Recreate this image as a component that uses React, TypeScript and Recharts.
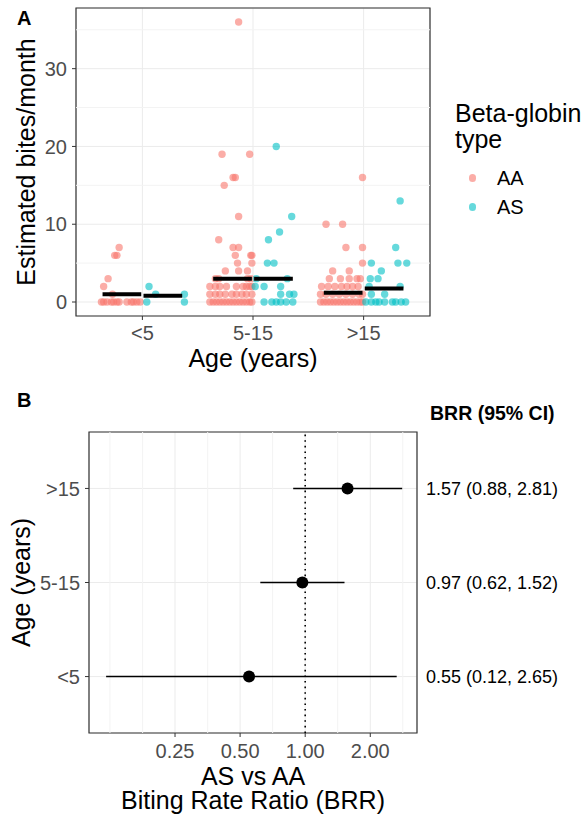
import React from 'react'
import {
  ScatterChart,
  Scatter,
  XAxis,
  YAxis,
  CartesianGrid,
  ReferenceLine,
  ReferenceArea,
  ErrorBar,
  Label,
} from 'recharts'

// age groups (x categories of panel A, rows of panel B)
const ages = ['<5', '5-15', '>15']
const ageTicks = [1, 2, 3]

// panel A: [jitter within the dodge lane (category units), estimated bites/month]
const aaUnder5: [number, number][] = [
  [-0.21, 7], [-0.25, 6], [-0.23, 6], [-0.31, 3], [-0.35, 2], [-0.27, 1],
  [-0.37, 0], [-0.35, 0], [-0.32, 0], [-0.28, 0], [-0.26, 0], [-0.23, 0],
  [-0.21, 0], [-0.14, 0], [-0.1, 0], [-0.08, 0], [-0.05, 0], [-0.02, 0],
]
const asUnder5: [number, number][] = [
  [0.06, 2], [0.12, 1], [0.38, 1], [0.04, 0], [0.38, 0],
]
const aa5to15: [number, number][] = [
  [-0.13, 36], [-0.28, 19], [-0.03, 19], [-0.18, 16], [-0.16, 16], [-0.26, 15],
  [-0.13, 11], [-0.31, 8], [-0.18, 7], [-0.13, 7], [-0.16, 6], [-0.02, 6], [-0.01, 6],
  [-0.14, 5], [-0.01, 5], [-0.25, 4], [-0.13, 4], [-0.05, 4],
  [-0.34, 3], [-0.31, 3], [-0.05, 3], [-0.02, 3],
  [-0.39, 2], [-0.34, 2], [-0.3, 2], [-0.24, 2], [-0.15, 2], [-0.09, 2], [-0.06, 2], [-0.03, 2], [-0.01, 2],
  [-0.39, 1], [-0.34, 1], [-0.3, 1], [-0.25, 1], [-0.19, 1], [-0.15, 1], [-0.1, 1], [-0.06, 1], [-0.01, 1],
  [-0.39, 0], [-0.36, 0], [-0.33, 0], [-0.3, 0], [-0.27, 0], [-0.24, 0], [-0.21, 0],
  [-0.18, 0], [-0.15, 0], [-0.12, 0], [-0.09, 0], [-0.06, 0], [-0.03, 0], [-0.01, 0],
]
const as5to15: [number, number][] = [
  [0.21, 20], [0.35, 11], [0.24, 9], [0.14, 8], [0.13, 5], [0.19, 5],
  [0.03, 3], [0.31, 3], [0.02, 2], [0.1, 2], [0.25, 2],
  [0.25, 1], [0.33, 1], [0.37, 1],
  [0.1, 0], [0.17, 0], [0.21, 0], [0.25, 0], [0.3, 0], [0.36, 0],
]
const aaOver15: [number, number][] = [
  [-0.01, 16], [-0.34, 10], [-0.19, 10], [-0.16, 7], [-0.01, 7], [-0.01, 5],
  [-0.28, 4], [-0.13, 4], [-0.31, 3], [-0.21, 3], [-0.13, 3], [-0.06, 3], [-0.03, 3],
  [-0.38, 2], [-0.32, 2], [-0.26, 2], [-0.2, 2], [-0.15, 2], [-0.1, 2], [-0.05, 2],
  [-0.39, 1], [-0.34, 1], [-0.28, 1], [-0.22, 1], [-0.16, 1], [-0.1, 1], [-0.04, 1], [-0.01, 1],
  [-0.39, 0], [-0.36, 0], [-0.33, 0], [-0.3, 0], [-0.27, 0], [-0.24, 0], [-0.21, 0],
  [-0.18, 0], [-0.15, 0], [-0.12, 0], [-0.09, 0], [-0.06, 0], [-0.03, 0], [-0.01, 0],
]
const asOver15: [number, number][] = [
  [0.33, 13], [0.29, 7], [0.07, 5], [0.31, 5], [0.39, 5], [0.16, 4],
  [0.06, 3], [0.13, 3], [0.05, 2], [0.33, 2], [0.07, 1], [0.19, 1],
  [0.02, 0], [0.07, 0], [0.11, 0], [0.14, 0], [0.19, 0], [0.26, 0], [0.29, 0], [0.34, 0], [0.38, 0],
]
const aaMedians = [1.0, 3, 1.2]
const asMedians = [0.8, 3, 1.75]

const biteTicks = [0, 10, 20, 30]
const biteMinor = [5, 15, 25, 35]

// panel B: biting rate ratio AS vs AA, by age
const brrEst = [0.55, 0.97, 1.57]
const brrLow = [0.12, 0.62, 0.88]
const brrHigh = [2.65, 1.52, 2.81]
const brrTicks = [0.25, 0.5, 1, 2]
const brrMinor = [0.125, 0.177, 0.354, 0.707, 1.414, 2.828]

const AA = '#F8766D'
const AS = '#00BFC4'
const FONT = '"Liberation Sans", Arial, Helvetica, sans-serif'
const GRID = '#EBEBEB'
const MINOR = '#F3F3F3'
const BORDER = '#333333'
const TICK_TEXT = '#4D4D4D'
const TITLE_SIZE = 25

const xDomA: [number, number] = [0.4, 3.6]
const yDomA: [number, number] = [-1.8, 37.8]
const xDomB: [number, number] = [0.1, 3.29]
const yDomB: [number, number] = [0.4, 3.6]

const toPoints = (groups: [number, number][][]) =>
  groups.flatMap((g, i) => g.map(([j, v]) => ({ x: i + 1 + j, y: v })))

const aaPoints = toPoints([aaUnder5, aa5to15, aaOver15])
const asPoints = toPoints([asUnder5, as5to15, asOver15])

const medianSegs = (meds: number[], from: number, to: number) =>
  meds.map((m, i) => [
    { x: i + 1 + from, y: m },
    { x: i + 1 + to, y: m },
  ])

const aaSegs = medianSegs(aaMedians, -0.36, -0.01)
const asSegs = medianSegs(asMedians, 0.01, 0.36)

const brrRows = ages.map((a, i) => ({
  age: a,
  pos: i + 1,
  est: brrEst[i],
  err: [brrEst[i] - brrLow[i], brrHigh[i] - brrEst[i]],
}))

const dot = (color: string) => (p: any) => (
  <circle cx={p.cx} cy={p.cy} r={3.7} fill={color} fillOpacity={0.6} />
)

const noShape = () => <g />

const tickStyle = { fill: TICK_TEXT, fontSize: 20, fontFamily: FONT }

function RotatedTitle({ viewBox, cx, text }: any) {
  const cy = viewBox.y + viewBox.height / 2
  return (
    <text
      x={cx}
      y={cy}
      transform={`rotate(-90 ${cx} ${cy})`}
      textAnchor="middle"
      dominantBaseline="central"
      fontSize={TITLE_SIZE}
      fill="#000"
      fontFamily={FONT}
    >
      {text}
    </text>
  )
}

function PanelA() {
  return (
    <ScatterChart
      width={587}
      height={372}
      margin={{ top: 8, right: 157, bottom: 0, left: 0 }}
    >
      <CartesianGrid stroke={GRID} />
      {biteMinor.map((v) => (
        <ReferenceLine key={v} y={v} stroke={MINOR} />
      ))}
      <XAxis
        type="number"
        dataKey="x"
        domain={xDomA}
        ticks={ageTicks}
        interval={0}
        allowDataOverflow
        tickFormatter={(v) => ages[v - 1]}
        height={56}
        tickSize={4}
        tickMargin={6}
        axisLine={false}
        tickLine={{ stroke: BORDER }}
        tick={tickStyle}
      >
        <Label
          content={(p: any) => (
            <text
              x={p.viewBox.x + p.viewBox.width / 2}
              y={p.viewBox.y + 51}
              textAnchor="middle"
              fontSize={TITLE_SIZE}
              fill="#000"
              fontFamily={FONT}
            >
              Age (years)
            </text>
          )}
        />
      </XAxis>
      <YAxis
        type="number"
        dataKey="y"
        domain={yDomA}
        ticks={biteTicks}
        interval={0}
        allowDataOverflow
        width={76}
        tickSize={4}
        tickMargin={5}
        axisLine={false}
        tickLine={{ stroke: BORDER }}
        tick={tickStyle}
      >
        <Label
          content={(p: any) => (
            <RotatedTitle viewBox={p.viewBox} cx={26} text="Estimated bites/month" />
          )}
        />
      </YAxis>
      <Scatter data={aaPoints} shape={dot(AA)} isAnimationActive={false} />
      <Scatter data={asPoints} shape={dot(AS)} isAnimationActive={false} />
      {aaSegs.concat(asSegs).map((seg, i) => (
        <Scatter
          key={'m' + i}
          data={seg}
          shape={noShape}
          line={{ stroke: '#000', strokeWidth: 4 }}
          isAnimationActive={false}
        />
      ))}
      <ReferenceArea
        x1={xDomA[0]}
        x2={xDomA[1]}
        y1={yDomA[0]}
        y2={yDomA[1]}
        fill="none"
        stroke={BORDER}
        strokeWidth={1.2}
        ifOverflow="visible"
      />
    </ScatterChart>
  )
}

function PanelB() {
  return (
    <ScatterChart
      width={587}
      height={445}
      margin={{ top: 60, right: 0, bottom: 0, left: 0 }}
    >
      <CartesianGrid stroke={GRID} yAxisId="left" />
      {brrMinor.map((v) => (
        <ReferenceLine key={v} x={v} yAxisId="left" stroke={MINOR} />
      ))}
      <XAxis
        type="number"
        dataKey="est"
        scale="log"
        domain={xDomB}
        ticks={brrTicks}
        interval={0}
        allowDataOverflow
        tickFormatter={(v) => Number(v).toFixed(2)}
        height={84}
        tickSize={4}
        tickMargin={7}
        axisLine={false}
        tickLine={{ stroke: BORDER }}
        tick={tickStyle}
      >
        <Label
          content={(p: any) => (
            <text
              x={p.viewBox.x + p.viewBox.width / 2}
              textAnchor="middle"
              fontSize={TITLE_SIZE}
              fill="#000"
              fontFamily={FONT}
            >
              <tspan x={p.viewBox.x + p.viewBox.width / 2} y={p.viewBox.y + 52}>
                AS vs AA
              </tspan>
              <tspan x={p.viewBox.x + p.viewBox.width / 2} y={p.viewBox.y + 76}>
                Biting Rate Ratio (BRR)
              </tspan>
            </text>
          )}
        />
      </XAxis>
      <YAxis
        yAxisId="left"
        type="number"
        dataKey="pos"
        domain={yDomB}
        ticks={ageTicks}
        interval={0}
        allowDataOverflow
        tickFormatter={(v) => ages[v - 1]}
        width={89}
        tickSize={4}
        tickMargin={5}
        axisLine={false}
        tickLine={{ stroke: BORDER }}
        tick={tickStyle}
      >
        <Label
          content={(p: any) => (
            <RotatedTitle viewBox={p.viewBox} cx={21} text="Age (years)" />
          )}
        />
      </YAxis>
      <YAxis
        yAxisId="right"
        orientation="right"
        type="number"
        dataKey="pos"
        domain={yDomB}
        ticks={ageTicks}
        interval={0}
        allowDataOverflow
        tickFormatter={(v) =>
          `${brrEst[v - 1].toFixed(2)} (${brrLow[v - 1].toFixed(2)}, ${brrHigh[v - 1].toFixed(2)})`
        }
        width={170}
        tickSize={0}
        tickMargin={9}
        axisLine={false}
        tickLine={false}
        tick={{ fill: '#000', fontSize: 18, fontFamily: FONT }}
      />
      <ReferenceLine
        x={1}
        yAxisId="left"
        stroke="#000"
        strokeWidth={1.6}
        strokeDasharray="1.6 4"
      />
      <Scatter
        yAxisId="right"
        data={brrRows}
        shape={noShape}
        isAnimationActive={false}
      />
      <Scatter
        yAxisId="left"
        data={brrRows}
        shape={(p: any) => <circle cx={p.cx} cy={p.cy} r={6} fill="#000" />}
        isAnimationActive={false}
      >
        <ErrorBar
          dataKey="err"
          direction="x"
          width={0}
          stroke="#000"
          strokeWidth={1.6}
          isAnimationActive={false}
        />
      </Scatter>
      <ReferenceArea
        yAxisId="left"
        x1={xDomB[0]}
        x2={xDomB[1]}
        y1={yDomB[0]}
        y2={yDomB[1]}
        fill="none"
        stroke={BORDER}
        strokeWidth={1.2}
        ifOverflow="visible"
      />
    </ScatterChart>
  )
}

const abs = (left: number, top: number, extra: React.CSSProperties = {}): React.CSSProperties => ({
  position: 'absolute',
  left,
  top,
  whiteSpace: 'nowrap',
  ...extra,
})

export default function App() {
  return (
    <div
      style={{
        position: 'absolute',
        left: 0,
        top: 0,
        width: 587,
        height: 817,
        background: '#fff',
        fontFamily: FONT,
        overflow: 'hidden',
      }}
    >
      <div style={abs(0, 0)}>
        <PanelA />
      </div>
      <div style={abs(0, 372)}>
        <PanelB />
      </div>

      <div style={abs(17, 8, { fontSize: 20, fontWeight: 700, lineHeight: '20px' })}>A</div>
      <div style={abs(17, 390, { fontSize: 20, fontWeight: 700, lineHeight: '20px' })}>B</div>

      {/* legend of panel A */}
      <div style={abs(455, 100, { fontSize: TITLE_SIZE, lineHeight: '26px' })}>
        Beta-globin
        <br />
        type
      </div>
      {[
        { name: 'AA', color: AA, y: 178 },
        { name: 'AS', color: AS, y: 207 },
      ].map((k) => (
        <React.Fragment key={k.name}>
          <div
            style={abs(468.5, k.y - 3.7, {
              width: 7.4,
              height: 7.4,
              borderRadius: '50%',
              background: k.color,
              opacity: 0.6,
            })}
          />
          <div style={abs(497, k.y - 10, { fontSize: 20, lineHeight: '20px' })}>{k.name}</div>
        </React.Fragment>
      ))}

      <div style={abs(430, 403, { fontSize: 19.5, fontWeight: 700, lineHeight: '20px' })}>
        BRR (95% CI)
      </div>
    </div>
  )
}
